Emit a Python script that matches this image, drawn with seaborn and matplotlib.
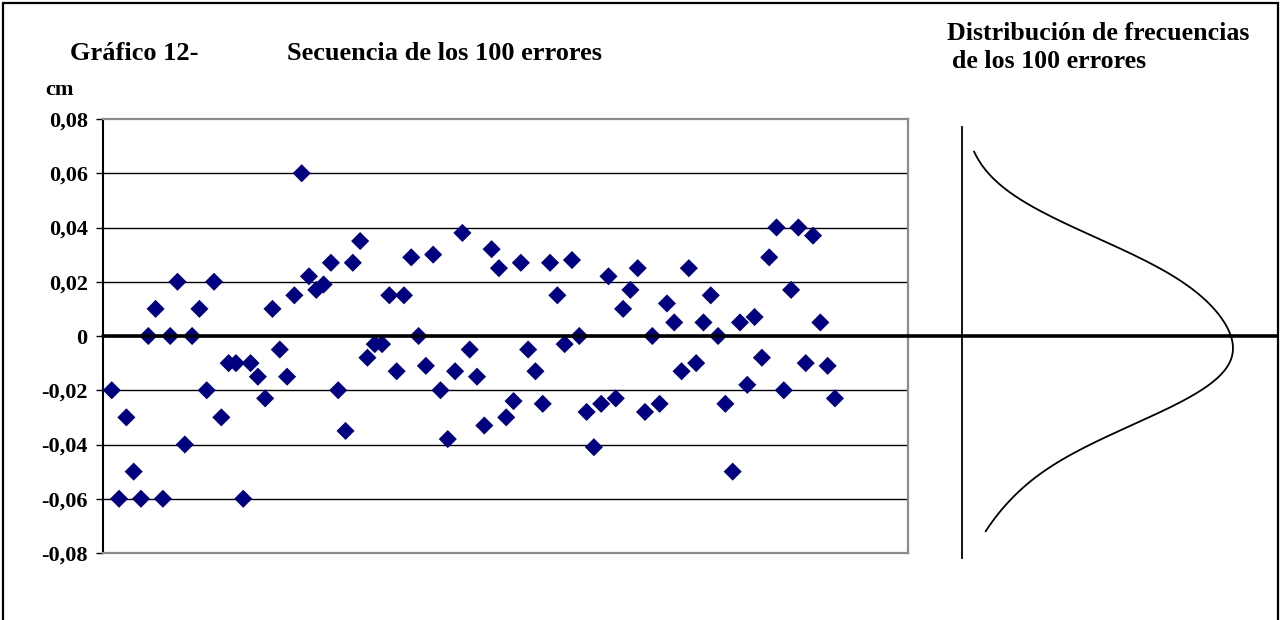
import numpy as np
import pandas as pd
import matplotlib
matplotlib.use("Agg")
import matplotlib.pyplot as plt
import seaborn as sns
from matplotlib.patches import Rectangle

# Secuencia de los 100 errores (cm)
errores = [
    -0.020, -0.060, -0.030, -0.050, -0.060, 0.000, 0.010, -0.060, 0.000, 0.020,
    -0.040, 0.000, 0.010, -0.020, 0.020, -0.030, -0.010, -0.010, -0.060, -0.010,
    -0.015, -0.023, 0.010, -0.005, -0.015, 0.015, 0.060, 0.022, 0.017, 0.019,
    0.027, -0.020, -0.035, 0.027, 0.035, -0.008, -0.003, -0.003, 0.015, -0.013,
    0.015, 0.029, 0.000, -0.011, 0.030, -0.020, -0.038, -0.013, 0.038, -0.005,
    -0.015, -0.033, 0.032, 0.025, -0.030, -0.024, 0.027, -0.005, -0.013, -0.025,
    0.027, 0.015, -0.003, 0.028, 0.000, -0.028, -0.041, -0.025, 0.022, -0.023,
    0.010, 0.017, 0.025, -0.028, 0.000, -0.025, 0.012, 0.005, -0.013, 0.025,
    -0.010, 0.005, 0.015, 0.000, -0.025, -0.050, 0.005, -0.018, 0.007, -0.008,
    0.029, 0.040, -0.020, 0.017, 0.040, -0.010, 0.037, 0.005, -0.011, -0.023,
]
marcas_y = [-0.08, -0.06, -0.04, -0.02, 0.0, 0.02, 0.04, 0.06, 0.08]
etiquetas_y = ["-0,08", "-0,06", "-0,04", "-0,02", "0", "0,02", "0,04", "0,06", "0,08"]

df = pd.DataFrame({"n": np.arange(1, len(errores) + 1), "error": errores})

sns.set_theme(style="white")
plt.rcParams["font.family"] = ["Liberation Serif", "DejaVu Serif"]
plt.rcParams["font.weight"] = "bold"
plt.rcParams["text.color"] = "black"
plt.rcParams["ytick.color"] = "black"
plt.rcParams["axes.labelcolor"] = "black"

W, H = 1284, 620
fig = plt.figure(figsize=(W / 100, H / 100), dpi=100)
fig.patch.set_facecolor("white")

# Gráfico de la secuencia
ax = fig.add_axes([103 / W, 1 - 553 / H, 805 / W, 434 / H])
sns.scatterplot(data=df, x="n", y="error", marker="D", s=85, color="#000080",
                edgecolor="none", linewidth=0, ax=ax, zorder=3)
ax.set_xlim(-0.2, 110)
ax.set_ylim(-0.08, 0.08)
ax.set_xticks([])
ax.set_yticks(marcas_y)
ax.set_yticklabels(etiquetas_y, fontsize=16, fontweight="bold")
ax.set_xlabel("")
ax.set_ylabel("")
for v in marcas_y[1:-1]:
    ax.axhline(v, color="black", lw=1, zorder=1)
for lado in ["top", "right", "bottom"]:
    ax.spines[lado].set_color("#8c8c8c")
    ax.spines[lado].set_linewidth(1.6)
ax.spines["left"].set_color("black")
ax.spines["left"].set_linewidth(1.5)
ax.tick_params(axis="y", direction="out", length=5, width=1, color="black",
               left=True, pad=6)

# Línea del cero que cruza hasta la distribución
ax.axhline(0, xmin=0, xmax=(1277 - 103) / 805, color="black", lw=2.6,
           clip_on=False, zorder=4)

# Distribución de frecuencias (curva de densidad girada)
ax2 = fig.add_axes([962 / W, 1 - 558 / H, 315 / W, 431 / H])
ax2.patch.set_alpha(0)
sns.kdeplot(y=errores, ax=ax2, color="black", lw=1.3, bw_adjust=1.6, cut=3,
            clip=(-0.072, 0.068))
ax2.set_ylim(-0.0818, 0.0770)
dens = ax2.lines[0].get_xdata()
dmin, dmax = dens.min(), dens.max()
ancho = (dmax - dmin) * 315 / 259
x0 = dmin - 12 * ancho / 315
ax2.set_xlim(x0, x0 + ancho)
for lado in ["top", "right", "bottom"]:
    ax2.spines[lado].set_visible(False)
ax2.spines["left"].set_color("black")
ax2.spines["left"].set_linewidth(1.3)
ax2.set_xticks([])
ax2.set_yticks([])
ax2.set_xlabel("")
ax2.set_ylabel("")

# Textos
fig.text(70 / W, 1 - 60 / H, "Gráfico 12-", fontsize=19, fontweight="bold", va="baseline")
fig.text(287 / W, 1 - 60 / H, "Secuencia de los 100 errores", fontsize=19,
         fontweight="bold", va="baseline")
fig.text(45 / W, 1 - 95 / H, "cm", fontsize=16, fontweight="bold", va="baseline")
fig.text(947 / W, 1 - 40 / H, "Distribución de frecuencias", fontsize=18.6,
         fontweight="bold", va="baseline")
fig.text(952 / W, 1 - 68 / H, "de los 100 errores", fontsize=18.6,
         fontweight="bold", va="baseline")

# Marco exterior
fig.add_artist(Rectangle((3 / W, -0.05), (1278 - 3) / W, 1 - 3 / H + 0.05,
                         transform=fig.transFigure, fill=False,
                         edgecolor="black", lw=1.6))

fig.savefig("out.png", dpi=100)
